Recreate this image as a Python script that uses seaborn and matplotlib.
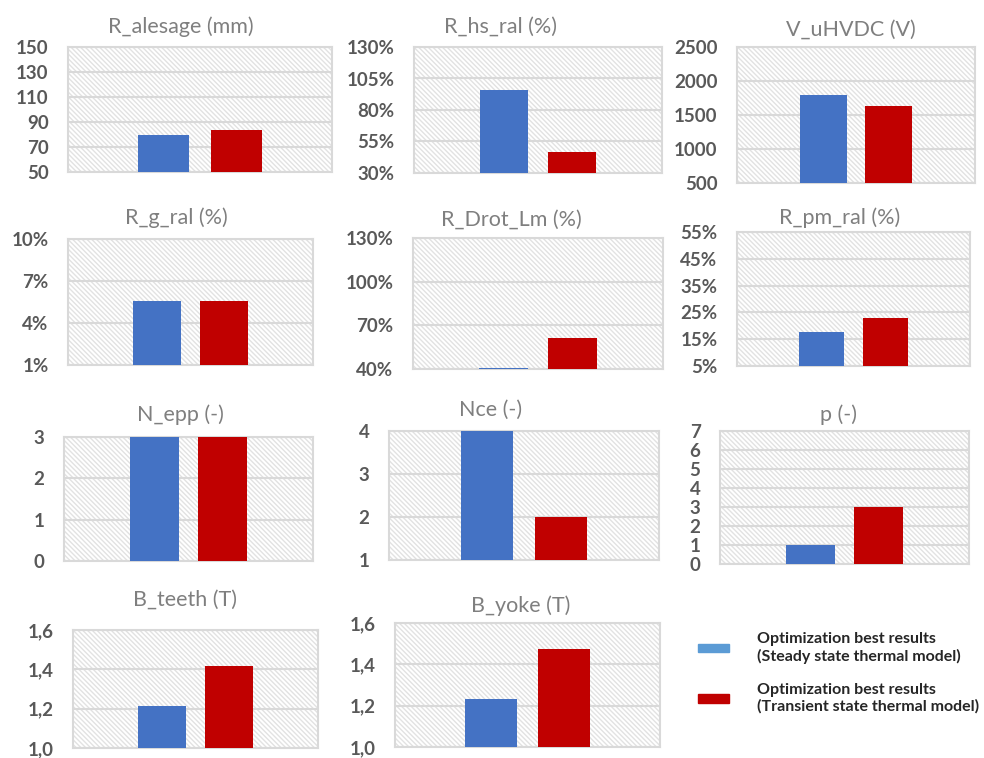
import pandas as pd
import matplotlib.pyplot as plt
import seaborn as sns
from matplotlib.patches import Patch, Rectangle

# values
params = ["R_alesage (mm)", "R_hs_ral (%)", "V_uHVDC (V)",
          "R_g_ral (%)", "R_Drot_Lm (%)", "R_pm_ral (%)",
          "N_epp (-)", "Nce (-)", "p (-)",
          "B_teeth (T)", "B_yoke (T)"]
steady = [80, 96, 1800, 5.6, 40.7, 17.7, 3, 4, 1, 1.215, 1.23]
transient = [84, 47, 1630, 5.6, 61, 23, 3, 2, 3, 1.415, 1.475]
y_ticks = [
    [50, 70, 90, 110, 130, 150],
    [30, 55, 80, 105, 130],
    [500, 1000, 1500, 2000, 2500],
    [1, 4, 7, 10],
    [40, 70, 100, 130],
    [5, 15, 25, 35, 45, 55],
    [0, 1, 2, 3],
    [1, 2, 3, 4],
    [0, 1, 2, 3, 4, 5, 6, 7],
    [1.0, 1.2, 1.4, 1.6],
    [1.0, 1.2, 1.4, 1.6],
]
tick_fmt = ["int", "pct", "int", "pct", "pct", "pct", "int", "int", "int", "comma", "comma"]
models = ["Optimization best results\n(Steady state thermal model)",
          "Optimization best results\n(Transient state thermal model)"]

# layout in pixels: plot box (x0, x1, y0, y1) and title centre (x, y)
boxes = [(68, 332, 47, 172), (414, 662, 47, 173), (737, 975, 47, 183),
         (68, 313, 239, 365), (413, 663, 238, 369), (737, 970, 232, 366),
         (64, 313, 437, 561), (389, 659, 431, 560), (720, 969, 431, 564),
         (73, 318, 630, 748), (395, 660, 623, 747)]
title_pos = [(181, 27), (500, 27), (851, 30),
             (176, 218), (511, 220), (840, 218),
             (180, 415), (491, 410), (838, 415),
             (185, 600), (521, 606)]

df = pd.DataFrame({
    "param": params * 2,
    "model": [models[0]] * len(params) + [models[1]] * len(params),
    "value": steady + transient,
})
palette = {models[0]: "#4472C4", models[1]: "#C00000"}

sns.set_theme(style="white")
plt.rcParams['font.family'] = ['Lato', 'DejaVu Sans']
plt.rcParams['hatch.linewidth'] = 1.0

W, H = 984, 758
fig = plt.figure(figsize=(W / 100, H / 100), dpi=100)
grey = "#d9d9d9"


def fmt(v, kind):
    if kind == "pct":
        return f"{v:.0f}%"
    if kind == "comma":
        return f"{v:.1f}".replace(".", ",")
    return f"{v:.0f}"


for i, p in enumerate(params):
    x0, x1, y0, y1 = boxes[i]
    ax = fig.add_axes([x0 / W, 1 - y1 / H, (x1 - x0) / W, (y1 - y0) / H])
    ax.add_patch(Rectangle((0, 0), 1, 1, transform=ax.transAxes, facecolor="white",
                           edgecolor="#e2e2e2", hatch="\\" * 7, lw=0, zorder=0))
    sns.barplot(data=df[df.param == p], x="param", y="value", hue="model",
                palette=palette, saturation=1, width=0.55, gap=0.29, linewidth=0,
                legend=False, ax=ax, zorder=3)
    ax.set_xlim(-0.5, 0.5)
    t = y_ticks[i]
    ax.set_ylim(t[0], t[-1])
    ax.set_yticks(t, labels=[fmt(v, tick_fmt[i]) for v in t], fontweight="bold")
    ax.set_xticks([])
    ax.set_xlabel("")
    ax.set_ylabel("")
    ax.set_axisbelow(True)
    ax.grid(axis="y", color=grey, lw=1.5)
    ax.tick_params(axis="y", length=0, pad=14, labelsize=13.5, labelcolor="#595959")
    for s in ax.spines.values():
        s.set_color(grey)
        s.set_linewidth(1.5)
    tx, ty = title_pos[i]
    fig.text(tx / W, 1 - ty / H, p, ha="center", va="center",
             color="#7f7f7f", fontsize=15.5)

handles = [Patch(color="#5B9BD5", label=models[0]),
           Patch(color="#C00000", label=models[1])]
fig.legend(handles=handles, loc="upper left", bbox_to_anchor=(684 / W, 1 - 618 / H),
           frameon=False, prop={"weight": "bold", "size": 11.5},
           handlelength=1.9, handleheight=0.45, handletextpad=1.8, labelspacing=1.2)

plt.savefig("out.png", dpi=100)
